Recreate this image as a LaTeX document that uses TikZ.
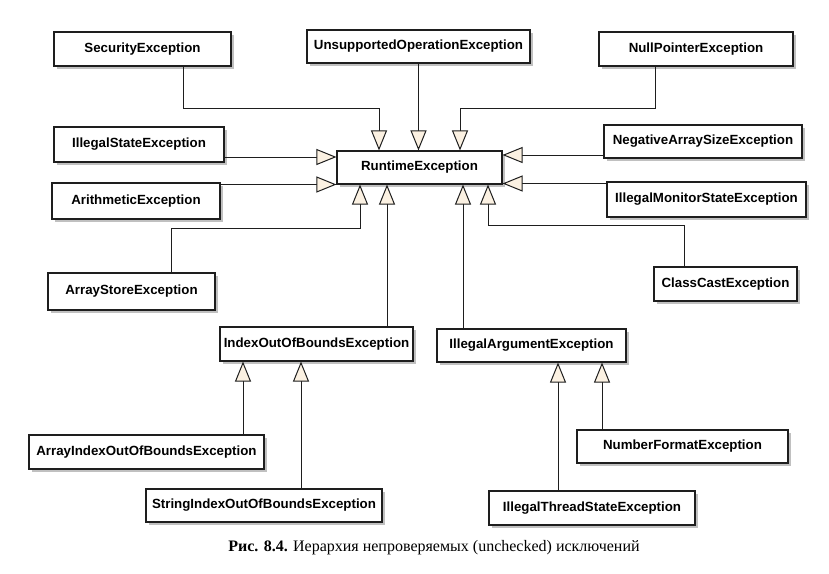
\documentclass[tikz,border=0pt]{standalone}
\usepackage{fontspec}
\setmainfont{Liberation Serif}
\newfontfamily\boxfont{Liberation Sans}
\usetikzlibrary{arrows.meta,shadows,calc}
\definecolor{cream}{RGB}{251,241,226}
\definecolor{ink}{RGB}{30,30,30}
\definecolor{shade}{RGB}{192,192,192}
\begin{document}
\begin{tikzpicture}[x=1pt,y=-1pt,
  cls/.style={draw=ink, line width=1.1pt, fill=white, inner sep=0pt,
    font=\boxfont\bfseries\fontsize{13.3}{15}\selectfont,
    drop shadow={shadow xshift=3pt, shadow yshift=-3pt, fill=shade, opacity=1}},
  inh/.style={draw=ink, line width=1pt,
    -{Triangle[length=20pt, width=16pt, fill=cream]}}]
\useasboundingbox (0,0) rectangle (829,573);

% boxes
\node[cls, minimum width=177pt, minimum height=34pt] (sec) at (142.5,49) {SecurityException};
\node[cls, minimum width=223pt, minimum height=33pt] (uns) at (418.5,46.5) {UnsupportedOperationException};
\node[cls, minimum width=194pt, minimum height=34pt] (npe) at (696,49) {NullPointerException};
\node[cls, minimum width=170pt, minimum height=35pt] (ise) at (139,144.5) {IllegalStateException};
\node[cls, minimum width=198pt, minimum height=33pt] (nas) at (703,141.5) {NegativeArraySizeException};
\node[cls, minimum width=165pt, minimum height=33pt] (rte) at (419.5,167.5) {RuntimeException};
\node[cls, minimum width=168pt, minimum height=36pt] (ari) at (136,201) {ArithmeticException};
\node[cls, minimum width=199pt, minimum height=35pt] (ims) at (706.5,199.5) {IllegalMonitorStateException};
\node[cls, minimum width=167pt, minimum height=37pt] (ase) at (131.5,291.5) {ArrayStoreException};
\node[cls, minimum width=143pt, minimum height=34pt] (cce) at (725.5,284) {ClassCastException};
\node[cls, minimum width=193pt, minimum height=34pt] (ioob) at (316.5,344) {IndexOutOfBoundsException};
\node[cls, minimum width=189pt, minimum height=33pt] (iae) at (531.5,345.5) {IllegalArgumentException};
\node[cls, minimum width=235pt, minimum height=34pt] (aioob) at (146.5,452) {ArrayIndexOutOfBoundsException};
\node[cls, minimum width=211pt, minimum height=33pt] (nfe) at (682.5,446.5) {NumberFormatException};
\node[cls, minimum width=236pt, minimum height=33pt] (sioob) at (264,505.5) {StringIndexOutOfBoundsException};
\node[cls, minimum width=206pt, minimum height=34pt] (itse) at (592,508) {IllegalThreadStateException};

% connectors to RuntimeException
\draw[inh] ([xshift=40.5pt]sec.south) -- ++(0,42) -| ([xshift=-40.5pt]rte.north);
\draw[inh] (uns.south) -- (uns.south |- rte.north);
\draw[inh] ([xshift=-41pt]npe.south) -- ++(0,42) -| ([xshift=40.5pt]rte.north);
\draw[inh] ([yshift=-12.5pt]ise.east) coordinate (a1) -- (rte.west |- a1);
\draw[inh] ([yshift=16.5pt]ari.east) coordinate (a2) -- (rte.west |- a2);
\draw[inh] ([yshift=-13.5pt]nas.west) coordinate (a3) -- (rte.east |- a3);
\draw[inh] ([yshift=16pt]ims.west) coordinate (a4) -- (rte.east |- a4);
\draw[inh] ([xshift=39.5pt]ase.north) -- ++(0,-44) -| ([xshift=-59.5pt]rte.south);
\draw[inh] ([xshift=70.5pt]ioob.north) coordinate (b1) -- (rte.south -| b1);
\draw[inh] ([xshift=-68.5pt]iae.north) coordinate (b2) -- (rte.south -| b2);
\draw[inh] ([xshift=-41.5pt]cce.north) -- ++(0,-41) -| ([xshift=68.5pt]rte.south);

% connectors to IndexOutOfBounds / IllegalArgument
\draw[inh] ([xshift=96.5pt]aioob.north) coordinate (c1) -- (ioob.south -| c1);
\draw[inh] ([xshift=37pt]sioob.north) coordinate (c2) -- (ioob.south -| c2);
\draw[inh] ([xshift=-34pt]itse.north) coordinate (c3) -- (iae.south -| c3);
\draw[inh] ([xshift=-80.5pt]nfe.north) coordinate (c4) -- (iae.south -| c4);

% caption
\node (cap) at (434,548) {\fontsize{16}{19}\selectfont\textbf{Рис. 8.4.} Иерархия непроверяемых (unchecked) исключений};
\end{tikzpicture}
\end{document}
